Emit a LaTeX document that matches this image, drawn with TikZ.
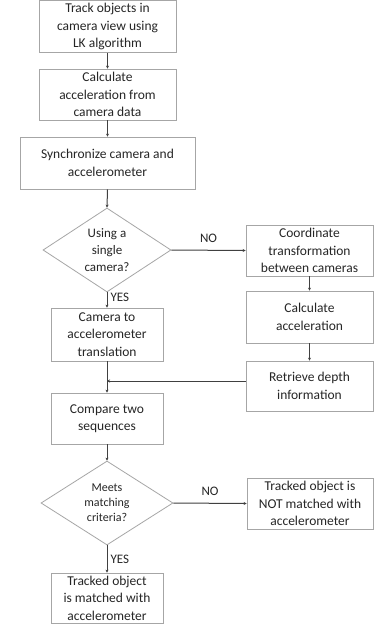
\documentclass[tikz,border=0pt]{standalone}
\usepackage{fontspec}
\setmainfont{Carlito}
\usetikzlibrary{shapes.geometric,arrows.meta}
\definecolor{boxline}{HTML}{A6A6A6}
\definecolor{txt}{HTML}{262626}
\definecolor{arr}{HTML}{404040}
\tikzset{
  box/.style={draw=boxline, line width=0.8pt, rectangle, inner sep=0pt, align=center,
    text=txt, font=\fontsize{13.5}{17.5}\selectfont},
  dia/.style={draw=boxline, line width=0.8pt, diamond, inner sep=0pt},
  diatext/.style={align=center, text=txt, inner sep=0pt},
  conn/.style={draw=arr, line width=1pt, -{Stealth[length=3pt,width=3pt]}},
  lab/.style={text=txt, font=\fontsize{13}{15}\selectfont, inner sep=0pt}
}
\begin{document}
\begin{tikzpicture}[x=1pt,y=-1pt]
\useasboundingbox[fill=white] (0,0) rectangle (374,630);
\node[box, minimum width=137pt, minimum height=52pt] (b1) at (107.5,26.5) {Track objects in\\camera view using\\LK algorithm};
\node[box, minimum width=137pt, minimum height=51pt] (b2) at (107.5,94.5) {Calculate\\acceleration from\\camera data};
\node[box, minimum width=175pt, minimum height=52pt] (b3) at (107.5,163) {Synchronize camera and\\accelerometer};
\node[dia, minimum width=128pt, minimum height=84pt] (d1) at (107,250) {};
\node[diatext, font=\fontsize{13}{17}\selectfont] (d1t) at (d1.center) {Using a\\single\\camera?};
\node[box, minimum width=127pt, minimum height=51pt] (r1) at (309.5,250.5) {Coordinate\\transformation\\between cameras};
\node[box, minimum width=112pt, minimum height=53pt] (c1) at (107,334.5) {Camera to\\accelerometer\\translation};
\node[box, minimum width=127pt, minimum height=52pt] (r2) at (309.5,317) {Calculate\\acceleration};
\node[box, minimum width=127pt, minimum height=50pt] (r3) at (309.5,386) {Retrieve depth\\information};
\node[box, minimum width=112pt, minimum height=51pt] (c2) at (107,418.5) {Compare two\\sequences};
\node[dia, minimum width=132pt, minimum height=84pt] (d2) at (107,503) {};
\node[diatext, font=\fontsize{12}{15}\selectfont] (d2t) at (d2.center) {Meets\\matching\\criteria?};
\node[box, minimum width=126pt, minimum height=51pt] (r4) at (310,503.5) {Tracked object is\\NOT matched with\\accelerometer};
\node[box, minimum width=112pt, minimum height=50pt] (c3) at (107,598) {Tracked object\\is matched with\\accelerometer};
\coordinate (j) at (107,381);
\draw[conn] (b1.south) -- (b2.north);
\draw[conn] (b2.south) -- (b3.north);
\draw[conn] (b3.south) -- (d1.north);
\draw[conn] (d1.east) -- node[lab, above=7pt] (no1) {NO} (r1.west);
\draw[conn] (d1.south) -- node[lab, right=3pt, pos=0.35] (yes1) {YES} (c1.north);
\draw[conn] (r1.south) -- (r2.north);
\draw[conn] (r2.south) -- (r3.north);
\draw[conn] (c1.south) -- (c2.north);
\draw[conn] (r3.west |- j) -- (j);
\draw[conn] (c2.south) -- (d2.north);
\draw[conn] (d2.east) -- node[lab, above=7pt] (no2) {NO} (r4.west);
\draw[conn] (d2.south) -- node[lab, right=3pt, pos=0.5] (yes2) {YES} (c3.north);
\end{tikzpicture}
\end{document}
